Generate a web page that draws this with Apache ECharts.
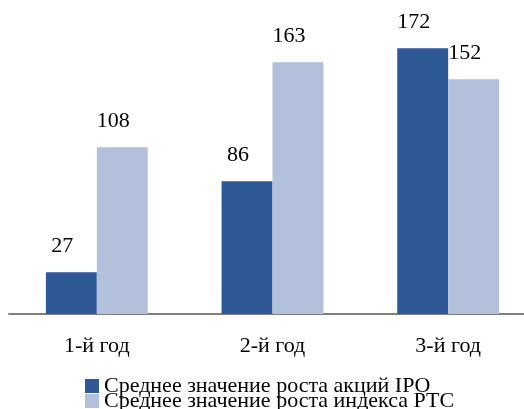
<!DOCTYPE html>
<html>
<head>
<meta charset="utf-8">
<script src="https://cdn.jsdelivr.net/npm/echarts@6/dist/echarts.min.js"></script>
<style>
html, body { margin: 0; padding: 0; background: #fff; }
#chart { width: 524px; height: 409px; }
</style>
</head>
<body>
<div id="chart"></div>
<script>
const categories = ['1-й год', '2-й год', '3-й год'];
const ipoValues = [27, 86, 172];
const rtsValues = [108, 163, 152];
const seriesNames = ['Среднее значение роста акций IPO', 'Среднее значение роста индекса РТС'];

const serif = '"Liberation Serif", "DejaVu Serif", serif';
const chart = echarts.init(document.getElementById('chart'));

const label = {
	show: true,
	position: 'top',
	distance: 15,
	offset: [-9, 0],
	color: '#000',
	fontFamily: serif,
	fontSize: 22
};

const legendBase = {
	orient: 'vertical',
	left: 85,
	padding: 0,
	itemWidth: 14,
	itemHeight: 14,
	itemGap: 0,
	icon: 'rect',
	textStyle: { fontFamily: serif, fontSize: 22, lineHeight: 14, padding: [0, 0, 8, 0], color: '#000' }
};

chart.setOption({
	animation: false,
	grid: { left: 9, width: 527, top: 5, bottom: 95, outerBoundsMode: 'none' },
	legend: [
		Object.assign({}, legendBase, { top: 375, data: [seriesNames[0]] }),
		Object.assign({}, legendBase, { top: 390, data: [seriesNames[1]] })
	],
	xAxis: {
		type: 'category',
		data: categories,
		axisLine: { lineStyle: { color: '#808080', width: 2 } },
		axisTick: { show: false },
		axisLabel: { color: '#000', fontFamily: serif, fontSize: 22, margin: 21 }
	},
	yAxis: { type: 'value', min: 0, max: 200, show: false, splitLine: { show: false } },
	series: [
		{
			name: seriesNames[0],
			type: 'bar',
			data: ipoValues,
			barWidth: '29%',
			barGap: '0%',
			itemStyle: { color: '#2f5896' },
			label: label
		},
		{
			name: seriesNames[1],
			type: 'bar',
			data: rtsValues,
			barWidth: '29%',
			itemStyle: { color: '#b3c0dc' },
			label: label
		}
	]
});
</script>
</body>
</html>
